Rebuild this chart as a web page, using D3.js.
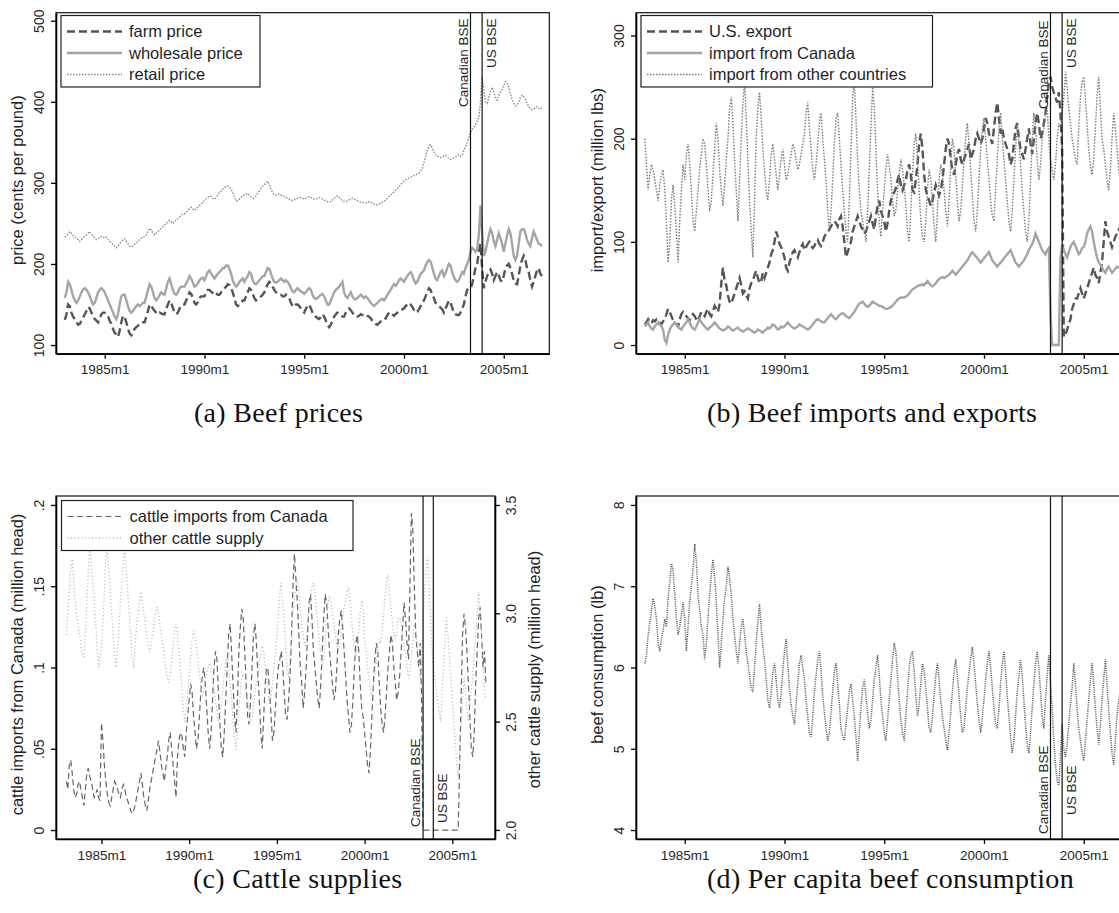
<!DOCTYPE html>
<html>
<head>
<meta charset="utf-8">
<script src="https://cdn.jsdelivr.net/npm/d3@7"></script>
<style>
  body { margin: 0; background: #fff; }
  svg text { font-family: "Liberation Sans", Arial, sans-serif; fill: #1f1f2a; }
  svg text.caption { font-family: "Liberation Serif", "DejaVu Serif", serif; fill: #111; letter-spacing: 0.3px; }
</style>
</head>
<body>
<svg id="chart" width="1119" height="913"></svg>
<script>
// months run from 1983m1 to 2006m12, one value per month
const firstMonth = "1983m1";
const xTickLabels = ["1985m1", "1990m1", "1995m1", "2000m1", "2005m1"];
const bseEvents = [["Canadian BSE", "2003m5"], ["US BSE", "2003m12"]];

// (a) beef prices, cents per pound
const priceTicks = [100, 200, 300, 400, 500];
const farmPrice = [
  131,138,150,148,140,135,132,128,125,126,130,134,
  138,142,147,145,140,136,132,130,128,133,138,140,
  140,138,135,130,126,120,115,113,110,118,128,136,
  135,128,120,114,112,116,120,122,124,126,128,128,
  128,135,142,150,148,145,142,140,138,140,139,138,
  138,145,150,155,152,146,140,138,140,145,148,150,
  150,155,160,165,163,158,152,150,153,158,160,160,
  160,165,168,168,166,164,162,164,162,162,165,168,
  170,172,175,174,170,165,158,150,148,150,152,155,
  155,160,165,170,168,163,158,155,156,158,160,162,
  165,170,175,178,176,172,168,165,163,162,162,160,
  160,162,160,158,152,148,147,150,150,148,145,142,
  140,145,148,150,145,140,136,135,133,132,135,138,
  135,130,125,122,125,130,135,138,140,138,136,135,
  135,140,143,145,143,140,137,135,135,136,138,137,
  137,138,136,135,133,130,128,126,125,127,129,130,
  130,133,137,140,140,138,136,138,140,142,143,144,
  145,148,150,152,150,147,143,140,141,144,148,152,
  155,160,165,170,168,162,158,152,150,148,146,144,
  140,145,150,155,152,146,140,138,137,137,140,145,
  150,160,168,170,170,175,185,195,200,215,225,195,
  170,178,185,190,193,188,180,185,190,186,180,178,
  185,195,198,200,195,188,180,176,175,185,198,205,
  210,205,195,190,180,172,178,185,192,195,188,185
];
const wholesalePrice = [
  158,165,178,175,168,160,155,152,155,160,165,168,
  170,168,165,160,155,150,152,158,165,168,170,168,
  165,160,155,150,145,140,135,132,138,150,160,162,
  162,155,148,142,140,142,145,148,150,148,150,152,
  152,160,168,175,172,165,158,155,158,162,165,163,
  162,170,178,182,175,168,163,162,165,170,172,172,
  172,176,180,185,182,177,172,173,176,180,182,183,
  180,185,190,192,188,185,182,185,188,190,192,195,
  195,198,198,194,188,180,175,172,174,178,180,182,
  178,182,185,190,188,180,176,175,177,180,182,185,
  185,190,195,194,188,182,178,177,178,180,182,180,
  178,180,178,175,170,166,165,168,170,168,166,165,
  163,165,168,170,168,162,158,157,158,160,162,163,
  160,155,150,150,155,160,165,168,170,172,175,178,
  165,160,158,162,165,160,157,156,158,160,162,160,
  158,160,158,155,152,150,148,150,152,154,156,157,
  155,158,162,165,168,172,175,173,176,180,182,180,
  178,182,185,188,190,186,180,176,178,183,188,190,
  192,198,202,205,203,196,188,182,180,185,190,192,
  185,188,195,200,198,190,184,180,178,180,185,190,
  188,195,200,205,215,220,218,215,218,235,272,240,
  210,215,225,235,243,238,228,222,230,238,232,225,
  215,225,235,243,238,225,210,205,210,225,240,243,
  243,238,230,225,222,232,240,235,230,225,224,222
];
const retailPrice = [
  233,235,237,240,238,235,233,232,230,228,230,232,
  234,236,238,240,237,234,232,230,231,233,234,233,
  232,233,230,228,226,224,222,220,222,225,228,230,
  231,228,225,222,221,222,224,226,228,230,232,233,
  234,236,240,244,242,238,236,238,240,242,244,246,
  248,250,252,254,252,250,252,254,256,258,260,262,
  262,264,266,268,270,268,266,268,270,272,274,276,
  278,280,282,284,283,281,280,282,285,288,290,292,
  294,296,296,295,292,288,282,278,278,280,282,284,
  285,286,287,285,283,281,282,284,287,290,293,296,
  298,300,302,298,292,288,285,285,286,286,285,284,
  283,282,281,280,279,278,279,280,281,282,282,281,
  280,281,282,283,282,281,280,280,281,282,281,280,
  279,278,277,276,277,279,281,283,284,282,280,278,
  277,277,278,279,280,281,280,279,278,277,276,276,
  275,275,276,277,276,275,274,273,273,274,275,276,
  277,279,281,283,285,287,289,291,293,295,298,300,
  302,304,305,306,307,308,309,310,311,312,314,318,
  325,332,340,345,347,343,338,335,333,332,331,332,
  333,334,332,330,329,330,331,332,334,335,333,334,
  340,345,350,356,362,366,368,372,376,380,400,430,
  415,400,398,405,412,418,412,405,402,408,412,415,
  420,425,424,418,410,403,398,395,396,400,405,408,
  406,403,398,394,392,390,391,393,394,392,391,393
];

// (b) beef imports and exports, million lbs
const tradeTicks = [0, 100, 200, 300];
const usExport = [
  20,22,25,22,21,24,23,25,24,22,20,23,
  25,30,35,32,28,24,22,20,18,25,30,32,
  30,28,26,24,27,30,28,25,23,28,32,30,
  28,32,35,30,28,33,38,35,32,40,60,75,
  62,58,48,42,40,45,50,55,60,65,58,50,
  52,48,45,55,60,62,68,72,65,60,62,70,
  65,70,75,80,88,92,100,110,105,98,95,90,
  85,75,72,80,85,90,92,88,85,90,95,98,
  92,95,98,100,96,94,96,100,102,98,96,100,
  105,108,110,112,115,118,120,118,115,122,125,115,
  100,85,90,95,100,110,115,120,125,120,115,112,
  108,110,115,120,125,118,112,125,135,140,130,125,
  120,110,118,130,140,145,148,152,160,165,155,150,
  155,160,170,175,165,150,148,160,175,195,205,190,
  165,150,145,140,135,140,148,155,150,145,150,160,
  175,190,200,195,180,170,165,175,185,190,180,175,
  180,185,190,195,180,185,190,200,205,200,195,200,
  210,220,215,205,200,195,210,225,235,220,205,210,
  200,195,190,185,175,180,195,210,215,200,190,185,
  180,190,200,210,195,185,200,215,225,215,200,205,
  215,225,240,255,260,250,245,240,235,245,225,190,
  8,10,15,20,25,35,40,45,45,50,55,50,
  45,50,55,60,65,70,75,68,65,60,70,80,
  100,120,110,105,100,95,100,105,108,112,110,105
];
const importCanada = [
  18,20,22,18,16,15,18,20,22,20,18,15,
  5,2,10,15,18,20,22,20,18,16,15,18,
  20,22,25,22,18,16,15,18,22,25,22,20,
  18,16,15,17,18,20,22,20,18,16,15,14,
  15,16,18,17,15,14,15,16,17,15,14,13,
  14,15,16,15,14,13,12,13,15,14,13,12,
  14,15,17,16,18,20,19,17,15,16,18,17,
  18,20,22,20,18,17,16,17,18,20,19,18,
  17,16,15,16,18,20,22,24,25,24,23,22,
  22,24,26,28,30,28,26,25,27,29,30,31,
  30,28,27,26,28,30,32,35,38,40,41,42,
  40,38,37,38,40,42,41,40,39,38,38,37,
  36,35,35,36,37,38,40,42,44,45,46,46,
  46,47,48,50,52,54,55,56,57,58,58,59,
  58,60,62,60,58,57,58,60,62,64,65,66,
  65,66,67,68,70,72,70,68,70,72,74,76,
  78,80,82,85,88,90,88,86,84,82,80,82,
  84,86,88,90,86,82,80,78,76,78,80,82,
  84,86,88,90,92,88,84,80,78,76,78,80,
  82,85,88,92,95,98,102,108,104,100,96,92,
  90,88,92,94,30,0,0,0,0,0,85,95,
  92,88,85,90,95,98,100,96,92,88,90,94,
  95,100,108,112,115,110,100,92,85,80,78,75,
  72,70,74,76,73,70,72,74,76,75,73,72
];
const importOther = [
  200,175,150,165,175,170,160,150,140,155,165,170,
  150,120,80,100,140,155,135,110,80,120,150,175,
  160,185,195,175,150,120,110,130,150,170,185,200,
  195,175,150,130,140,165,190,215,200,170,150,135,
  155,180,200,230,240,215,180,150,120,160,200,235,
  255,220,180,140,110,85,140,200,230,245,220,190,
  170,150,140,160,185,195,180,165,150,165,180,190,
  175,160,165,175,185,195,190,180,170,175,185,195,
  205,225,235,210,190,170,160,175,195,215,225,200,
  180,160,130,110,130,160,195,220,225,200,175,150,
  130,110,100,140,190,240,255,220,180,150,130,120,
  110,100,130,170,210,250,230,190,150,120,105,130,
  150,170,185,175,160,140,125,130,150,165,180,170,
  155,135,110,100,130,165,195,205,180,150,120,105,
  100,120,150,170,160,140,115,100,130,160,175,165,
  150,130,115,140,175,200,190,165,140,120,130,155,
  180,200,215,195,170,145,120,110,130,160,190,210,
  220,200,180,160,140,125,120,150,180,210,225,200,
  180,160,140,120,110,130,160,190,215,200,175,150,
  130,110,100,120,160,200,225,210,180,160,175,200,
  210,225,230,200,180,170,160,175,200,215,210,225,
  240,265,250,230,215,200,190,180,175,210,240,255,
  260,240,215,190,175,165,180,210,240,260,230,200,
  190,175,160,150,170,200,225,210,190,170,160,155
];

// (c) cattle supplies, million head
const cattleLeftTicks = [0, 0.05, 0.1, 0.15, 0.2];
const cattleLeftLabels = ["0", ".05", ".1", ".15", ".2"];
const cattleRightTicks = [2, 2.5, 3, 3.5];
const cattleCanada = [
  .030,.025,.040,.043,.035,.025,.020,.022,.028,.030,.025,.020,
  .015,.025,.035,.038,.033,.030,.025,.020,.022,.025,.020,.018,
  .066,.055,.040,.030,.022,.017,.015,.020,.025,.030,.028,.025,
  .022,.020,.025,.028,.025,.020,.018,.015,.012,.010,.012,.015,
  .020,.025,.030,.035,.028,.020,.015,.012,.018,.025,.030,.035,
  .040,.045,.050,.055,.048,.040,.035,.030,.038,.045,.055,.060,
  .050,.040,.030,.020,.045,.055,.060,.058,.050,.045,.060,.070,
  .080,.090,.085,.070,.060,.050,.055,.070,.085,.095,.100,.090,
  .075,.060,.050,.060,.080,.100,.110,.105,.085,.065,.050,.045,
  .060,.080,.100,.120,.127,.110,.090,.070,.060,.080,.110,.125,
  .136,.130,.110,.090,.070,.065,.080,.100,.120,.127,.115,.095,
  .080,.060,.050,.070,.090,.100,.098,.085,.070,.055,.060,.075,
  .090,.100,.105,.110,.100,.085,.070,.068,.080,.095,.120,.150,
  .170,.155,.140,.120,.100,.090,.075,.085,.100,.120,.140,.145,
  .130,.110,.100,.090,.080,.075,.090,.110,.130,.145,.140,.125,
  .110,.100,.090,.080,.085,.100,.120,.130,.135,.125,.110,.095,
  .080,.070,.060,.065,.080,.100,.115,.120,.110,.090,.075,.070,
  .060,.050,.040,.035,.050,.070,.090,.105,.115,.110,.090,.075,
  .065,.060,.070,.085,.100,.110,.120,.115,.100,.090,.080,.085,
  .095,.110,.125,.140,.130,.115,.105,.150,.195,.185,.150,.120,
  .110,.100,.115,.080,0,0,0,0,0,0,0,0,
  0,0,0,0,0,0,0,0,0,0,0,0,
  0,0,0,0,0,.040,.080,.120,.133,.125,.110,.090,
  .070,.050,.045,.060,.090,.110,.130,.137,.120,.100,.110,.090
];
const otherCattle = [
  2.90,3.00,3.10,3.20,3.25,3.15,3.05,3.00,2.95,2.90,2.85,2.80,
  2.80,2.90,3.05,3.20,3.30,3.25,3.15,3.05,2.95,2.85,2.75,2.80,
  2.85,2.95,3.10,3.25,3.30,3.20,3.10,3.00,2.90,2.80,2.75,2.85,
  2.95,3.05,3.15,3.25,3.30,3.20,3.10,3.00,2.90,2.80,2.75,2.85,
  2.95,3.00,3.05,3.10,3.05,3.00,2.95,2.90,2.85,2.82,2.85,2.90,
  2.95,3.00,3.03,3.00,2.95,2.90,2.85,2.80,2.75,2.70,2.68,2.72,
  2.78,2.85,2.92,2.95,2.90,2.82,2.75,2.65,2.55,2.50,2.55,2.62,
  2.70,2.80,2.88,2.92,2.90,2.85,2.78,2.72,2.66,2.62,2.65,2.70,
  2.72,2.75,2.77,2.75,2.70,2.65,2.60,2.55,2.50,2.52,2.58,2.65,
  2.72,2.78,2.80,2.75,2.68,2.60,2.50,2.42,2.37,2.45,2.55,2.65,
  2.70,2.72,2.70,2.65,2.60,2.55,2.50,2.52,2.58,2.64,2.68,2.72,
  2.78,2.82,2.85,2.82,2.76,2.70,2.64,2.58,2.62,2.68,2.75,2.82,
  2.90,3.00,3.10,3.14,3.05,2.95,2.85,2.75,2.70,2.78,2.90,3.00,
  3.08,3.12,3.15,3.10,3.02,2.95,2.90,2.85,2.88,2.95,3.02,3.08,
  3.12,3.14,3.10,3.02,2.95,2.88,2.80,2.74,2.78,2.88,2.98,3.05,
  3.08,3.05,3.00,2.95,2.90,2.85,2.83,2.86,2.92,2.98,3.03,3.06,
  3.10,3.12,3.05,2.98,2.90,2.84,2.80,2.85,2.92,3.00,3.06,3.02,
  2.88,2.82,2.76,2.70,2.65,2.62,2.66,2.72,2.78,2.84,2.88,2.86,
  2.92,3.00,3.08,3.15,3.18,3.10,3.02,2.95,2.90,2.88,2.93,2.98,
  2.98,2.95,2.90,2.85,2.80,2.75,2.70,2.74,2.80,2.88,2.95,2.92,
  2.85,2.78,2.70,2.80,2.95,3.10,3.20,3.26,3.15,3.00,2.85,2.75,
  2.70,2.65,2.60,2.55,2.50,2.62,2.75,2.88,2.98,2.90,2.80,2.70,
  2.60,2.50,2.40,2.30,2.25,2.35,2.48,2.60,2.70,2.65,2.55,2.50,
  2.58,2.65,2.72,2.80,2.90,3.00,3.10,3.02,2.90,2.78,2.65,2.60
];

// (d) per capita beef consumption, lb
const consumptionTicks = [4, 5, 6, 7, 8];
const beefConsumption = [
  6.05,6.15,6.40,6.55,6.70,6.85,6.75,6.60,6.30,6.20,6.35,6.45,
  6.60,6.50,6.85,7.05,7.28,7.20,6.90,6.60,6.40,6.50,6.65,6.80,
  6.60,6.20,6.50,6.80,7.00,7.20,7.52,7.30,6.90,6.70,6.50,6.40,
  6.10,6.30,6.60,6.90,7.15,7.33,7.10,6.80,6.40,6.00,6.30,6.60,
  6.85,7.00,7.24,7.10,6.90,6.60,6.40,6.20,6.05,6.30,6.50,6.60,
  6.40,6.20,6.05,5.90,5.75,5.70,6.00,6.30,6.55,6.78,6.50,6.25,
  6.10,5.85,5.60,5.50,5.70,5.95,6.05,5.85,5.60,5.50,5.70,5.95,
  6.20,6.35,6.05,5.75,5.55,5.40,5.30,5.55,5.80,6.05,6.15,6.00,
  5.85,5.60,5.40,5.20,5.15,5.40,5.70,5.90,6.10,6.20,5.95,5.65,
  5.45,5.25,5.10,5.20,5.45,5.70,5.95,6.05,5.80,5.55,5.25,5.15,
  5.10,5.30,5.50,5.70,5.80,5.60,5.40,5.15,4.85,5.20,5.50,5.75,
  5.85,5.65,5.45,5.25,5.35,5.60,5.85,6.00,6.15,5.90,5.60,5.40,
  5.20,5.10,5.35,5.60,5.85,6.10,6.30,6.20,5.90,5.60,5.35,5.20,
  5.10,5.40,5.70,6.00,6.15,6.20,5.95,5.65,5.40,5.55,5.80,6.05,
  5.95,5.75,5.50,5.25,5.20,5.40,5.65,5.90,6.05,5.85,5.60,5.40,
  5.25,5.10,4.98,5.20,5.45,5.70,5.95,6.10,5.90,5.65,5.40,5.20,
  5.25,5.50,5.75,5.95,6.10,6.25,6.05,5.80,5.55,5.35,5.20,5.40,
  5.60,5.85,6.05,6.20,6.00,5.75,5.50,5.30,5.25,5.50,5.80,6.05,
  6.20,5.95,5.65,5.40,5.15,4.95,5.10,5.40,5.70,5.90,6.10,5.90,
  5.60,5.30,5.05,4.95,5.20,5.50,5.80,6.05,6.20,6.00,5.70,5.40,
  5.25,5.60,5.90,6.15,5.80,5.50,5.10,4.80,4.60,4.55,4.90,5.30,
  5.00,4.90,5.05,5.30,5.55,5.75,6.05,5.80,5.50,5.25,5.10,4.95,
  4.85,5.10,5.35,5.60,5.85,6.05,5.80,5.50,5.25,5.05,5.30,5.60,
  5.85,6.10,5.80,5.50,5.20,4.95,4.80,5.10,5.40,5.60,5.75,5.90
];

// month string "YYYYmM" -> index counted from firstMonth
function monthIndex(s) {
  const [y, m] = s.split("m").map(Number);
  const [y0, m0] = firstMonth.split("m").map(Number);
  return (y - y0) * 12 + (m - m0);
}

const svg = d3.select("#chart");

function drawPanel(p) {
  const g = svg.append("g");
  const x = d3.scaleLinear().domain(p.xDomain).range([p.left, p.right]);
  const y = d3.scaleLinear().domain(p.yDomain).range([p.bottom, p.top]);
  const y2 = p.y2Domain
    ? d3.scaleLinear().domain(p.y2Domain).range([p.bottom, p.top])
    : null;

  // series
  p.series.forEach((s) => {
    const sy = s.right ? y2 : y;
    g.append("path")
      .datum(s.values)
      .attr("fill", "none")
      .attr("stroke", s.color)
      .attr("stroke-width", s.width)
      .attr("stroke-dasharray", s.dash || null)
      .attr("d", d3.line().x((d, i) => x(i)).y((d) => sy(d)));
  });

  // plot frame
  g.append("rect")
    .attr("x", p.left)
    .attr("y", p.top)
    .attr("width", p.right - p.left)
    .attr("height", p.bottom - p.top)
    .attr("fill", "none")
    .attr("stroke", "#111")
    .attr("stroke-width", 1.2);

  // x axis
  const xa = g
    .append("g")
    .attr("transform", `translate(0,${p.bottom})`)
    .call(
      d3.axisBottom(x)
        .tickValues(xTickLabels.map(monthIndex))
        .tickFormat((d, i) => xTickLabels[i])
        .tickSize(5)
        .tickSizeOuter(0)
        .tickPadding(6)
    );
  xa.selectAll("text").style("font-size", "13.5px");

  // left y axis, labels turned upright
  const ya = g
    .append("g")
    .attr("transform", `translate(${p.left},0)`)
    .call(
      d3.axisLeft(y)
        .tickValues(p.yTicks)
        .tickFormat((d, i) => (p.yLabels ? p.yLabels[i] : d))
        .tickSize(5)
        .tickSizeOuter(0)
    );
  ya.selectAll("text")
    .attr("x", 0)
    .attr("y", 0)
    .attr("dy", "0.35em")
    .attr("text-anchor", "middle")
    .attr("transform", "translate(-17,0) rotate(-90)")
    .style("font-size", "14px");

  if (y2) {
    const ya2 = g
      .append("g")
      .attr("transform", `translate(${p.right},0)`)
      .call(d3.axisRight(y2).tickValues(p.y2Ticks).tickSize(5).tickSizeOuter(0));
    ya2.selectAll("text")
      .attr("x", 0)
      .attr("y", 0)
      .attr("dy", "0.35em")
      .attr("text-anchor", "middle")
      .attr("transform", "translate(16,0) rotate(-90)")
      .style("font-size", "14px");
    ya2.select(".domain").attr("stroke-width", 1.6);
    ya2.selectAll(".tick line").attr("stroke-width", 1.3);
    g.append("text")
      .attr("transform", `translate(${p.right + 39},${(p.top + p.bottom) / 2 + 2}) rotate(-90)`)
      .attr("dy", "0.35em")
      .attr("text-anchor", "middle")
      .style("font-size", "16.5px")
      .text(p.y2Title);
  }

  [xa, ya].forEach((a) => {
    a.select(".domain").attr("stroke-width", 1.6);
    a.selectAll(".tick line").attr("stroke-width", 1.3);
  });

  // y title
  g.append("text")
    .attr("transform", `translate(${p.left - 39},${(p.top + p.bottom) / 2 - 3}) rotate(-90)`)
    .attr("dy", "0.35em")
    .attr("text-anchor", "middle")
    .style("font-size", "16.5px")
    .text(p.yTitle);

  // BSE event lines and labels
  bseEvents.forEach(([label, month], k) => {
    const ex = x(monthIndex(month));
    g.append("line")
      .attr("x1", ex).attr("x2", ex)
      .attr("y1", p.top).attr("y2", p.bottom)
      .attr("stroke", "#111")
      .attr("stroke-width", 1.2);
    const lx = k === 0 ? ex - 7.5 : ex + 9;
    const ly = p.labelY[k];
    g.append("text")
      .attr("transform", `translate(${lx},${ly}) rotate(-90)`)
      .attr("dy", "0.35em")
      .attr("text-anchor", p.labelsAtTop ? "end" : "start")
      .style("font-size", "13.5px")
      .text(label);
  });

  // legend
  if (p.legend) {
    const lg = g.append("g");
    lg.append("rect")
      .attr("x", p.legend.x)
      .attr("y", p.legend.y)
      .attr("width", p.legend.w)
      .attr("height", p.series.length * 21.5 + 7)
      .attr("fill", "#fff")
      .attr("stroke", "#222")
      .attr("stroke-width", 1.2);
    p.series.forEach((s, i) => {
      const ry = p.legend.y + 16 + i * 21.5;
      lg.append("line")
        .attr("x1", p.legend.x + 6).attr("x2", p.legend.x + 61)
        .attr("y1", ry).attr("y2", ry)
        .attr("stroke", s.color)
        .attr("stroke-width", s.width)
        .attr("stroke-dasharray", s.dash || null);
      lg.append("text")
        .attr("x", p.legend.x + 68)
        .attr("y", ry)
        .attr("dy", "0.35em")
        .style("font-size", "16.5px")
        .text(s.name);
    });
  }

  // caption
  svg.append("text")
    .attr("class", "caption")
    .attr("x", p.caption.x)
    .attr("y", p.caption.y)
    .style("font-size", "28px")
    .text(p.caption.text);
}

drawPanel({
  left: 56, right: 549.3, top: 12.7, bottom: 353.7,
  xDomain: [-5.3, 291.4], yDomain: [89.3, 509.9],
  yTicks: priceTicks, yTitle: "price (cents per pound)",
  labelsAtTop: true, labelY: [18.5, 18.5],
  legend: { x: 61, y: 15.5, w: 199 },
  caption: { x: 194, y: 422, text: "(a) Beef prices" },
  series: [
    { name: "farm price", values: farmPrice, color: "#555", width: 2.4, dash: "8,4" },
    { name: "wholesale price", values: wholesalePrice, color: "#a5a5a5", width: 2.4 },
    { name: "retail price", values: retailPrice, color: "#8a8a8a", width: 1.4, dash: "1.5,1.5" }
  ]
});

drawPanel({
  left: 636, right: 1129.3, top: 12.7, bottom: 353.7,
  xDomain: [-5.3, 291.4], yDomain: [-8.4, 322.1],
  yTicks: tradeTicks, yTitle: "import/export (million lbs)",
  labelsAtTop: true, labelY: [20.5, 18.5],
  legend: { x: 641, y: 15.5, w: 291.5 },
  caption: { x: 707, y: 422, text: "(b) Beef imports and exports" },
  series: [
    { name: "U.S. export", values: usExport, color: "#555", width: 2.4, dash: "8,4" },
    { name: "import from Canada", values: importCanada, color: "#a5a5a5", width: 2.4 },
    { name: "import from other countries", values: importOther, color: "#7a7a7a", width: 1.4, dash: "1.5,1.5" }
  ]
});

drawPanel({
  left: 56, right: 495, top: 496, bottom: 839,
  xDomain: [-7.1, 293.2], yDomain: [-0.0055, 0.2055],
  y2Domain: [1.958, 3.5415], y2Ticks: cattleRightTicks,
  yTicks: cattleLeftTicks, yLabels: cattleLeftLabels,
  yTitle: "cattle imports from Canada (million head)",
  y2Title: "other cattle supply (million head)",
  labelsAtTop: false, labelY: [827, 823],
  legend: { x: 61.5, y: 500.5, w: 291.5 },
  caption: { x: 193, y: 888, text: "(c) Cattle supplies" },
  series: [
    { name: "cattle imports from Canada", values: cattleCanada, color: "#666", width: 1.2, dash: "6,3.5" },
    { name: "other cattle supply", values: otherCattle, color: "#b4b4b4", width: 1.3, dash: "1,2.5", right: true }
  ]
});

drawPanel({
  left: 636, right: 1129.3, top: 496, bottom: 839,
  xDomain: [-5.3, 291.4], yDomain: [3.89, 8.11],
  yTicks: consumptionTicks, yTitle: "beef consumption (lb)",
  labelsAtTop: false, labelY: [834, 815],
  legend: null,
  caption: { x: 707, y: 888, text: "(d) Per capita beef consumption" },
  series: [
    { name: "", values: beefConsumption, color: "#555", width: 1.5, dash: "1,1.2" }
  ]
});
</script>
</body>
</html>
